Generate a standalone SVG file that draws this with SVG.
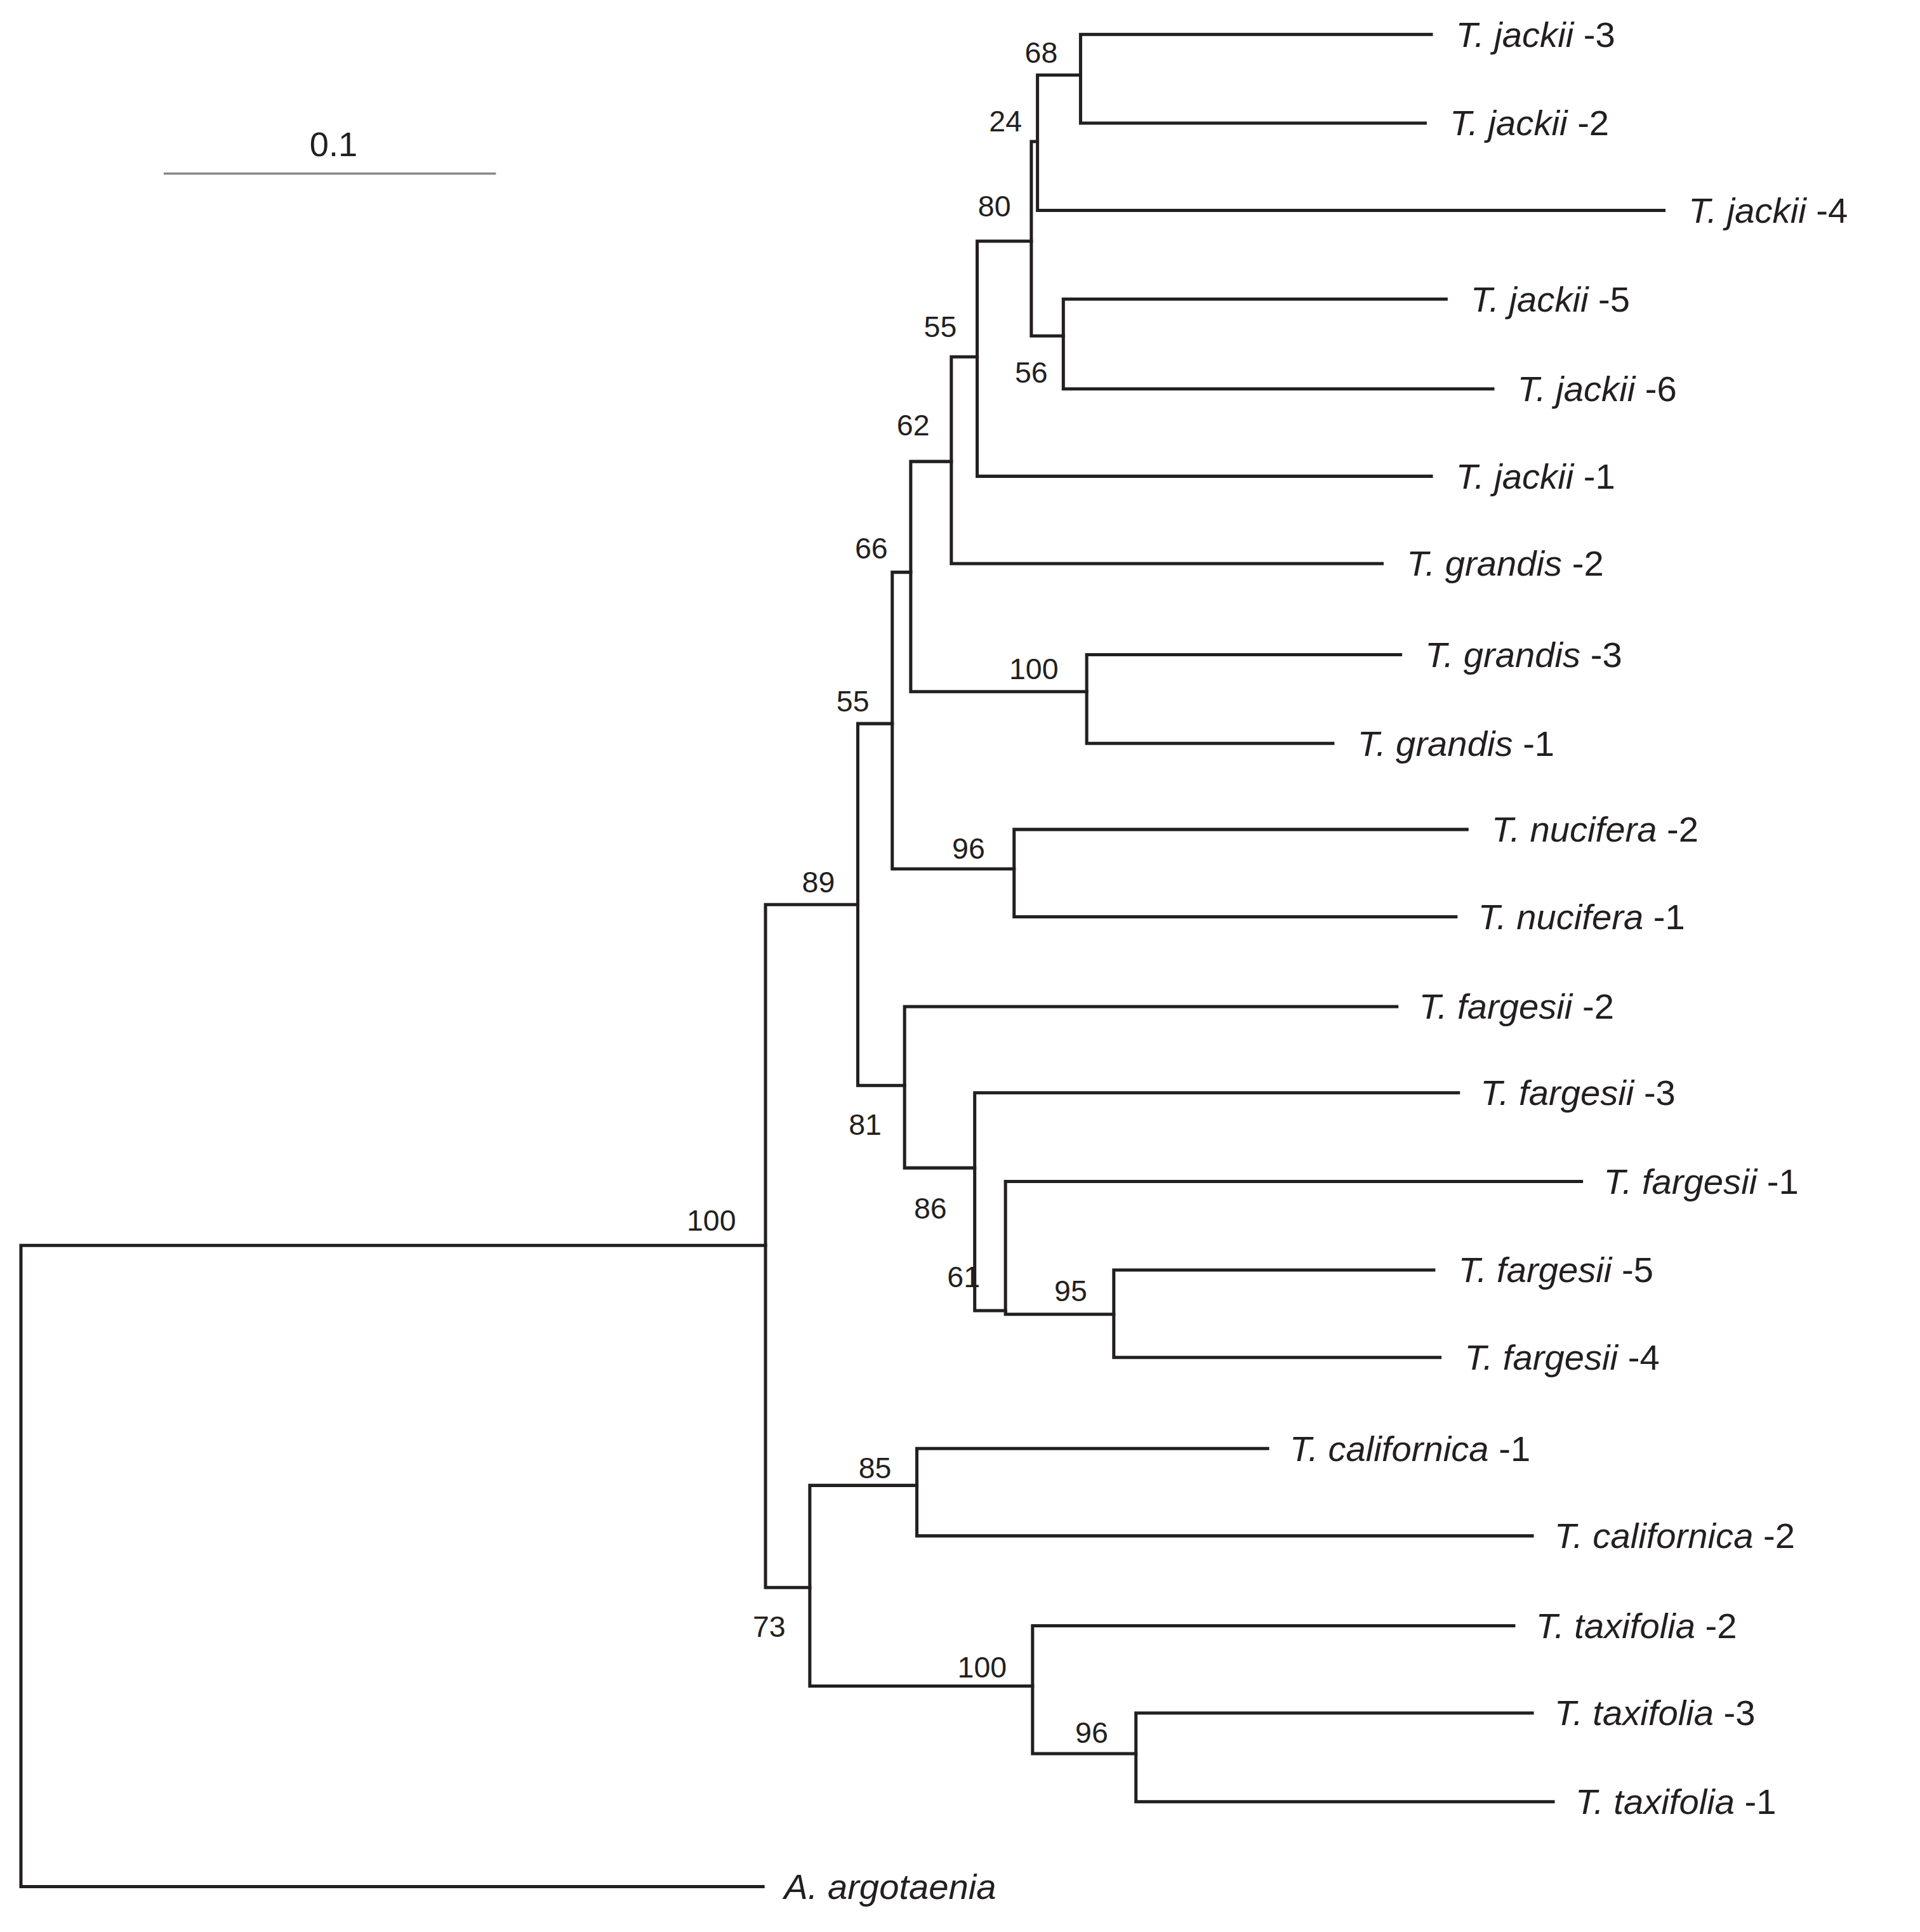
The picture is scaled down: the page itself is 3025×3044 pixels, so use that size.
<svg xmlns="http://www.w3.org/2000/svg" width="3025" height="3044" viewBox="0 0 3025 3044">
<style>
.br{fill:none;stroke:#231f20;stroke-width:2.6;stroke-linecap:square}
.bs{font-family:"Liberation Sans",Arial,sans-serif;font-size:24px;fill:#231f20;text-anchor:middle}
.tx{font-family:"Liberation Sans",Arial,sans-serif;font-size:29px;fill:#231f20}
.it{font-style:italic}
</style>
<rect width="3025" height="3044" fill="#fff"/>
<g transform="scale(1.939)">
<g id="scale">
<line x1="133" y1="141" x2="403" y2="141" stroke="#888" stroke-width="1.8"/>
<text class="bs" x="271" y="127" style="font-size:28px">0.1</text>
</g>
<g id="connectors">
<path class="br" d="M17,1012V1533M17,1012H622M17,1533H620"/>
<path class="br" d="M622,735V1290M622,735H697M622,1290H658"/>
<path class="br" d="M697,588V882M697,588H725M697,882H735"/>
<path class="br" d="M725,465V706M725,465H740M725,706H824"/>
<path class="br" d="M740,375V562M740,375H773M740,562H883"/>
<path class="br" d="M773,290V458M773,290H794M773,458H1123"/>
<path class="br" d="M794,196V387M794,196H838M794,387H1163"/>
<path class="br" d="M838,115V273M838,115H843M838,273H864"/>
<path class="br" d="M843,61V171M843,61H878M843,171H1352"/>
<path class="br" d="M878,28V100M878,28H1163M878,100H1158"/>
<path class="br" d="M864,243V316M864,243H1175M864,316H1213"/>
<path class="br" d="M883,532V604M883,532H1138M883,604H1083"/>
<path class="br" d="M824,674V745M824,674H1192M824,745H1183"/>
<path class="br" d="M735,818V949M735,818H1135M735,949H792"/>
<path class="br" d="M792,888V1065M792,888H1185M792,1065H817"/>
<path class="br" d="M817,960V1068M817,960H1285M817,1068H905"/>
<path class="br" d="M905,1032V1103M905,1032H1165M905,1103H1170"/>
<path class="br" d="M658,1207V1370M658,1207H745M658,1370H839"/>
<path class="br" d="M745,1177V1248M745,1177H1030M745,1248H1245"/>
<path class="br" d="M839,1321V1425M839,1321H1230M839,1425H923"/>
<path class="br" d="M923,1392V1464M923,1392H1245M923,1464H1262"/>
</g>
<g id="support">
<text class="bs" x="846" y="51">68</text>
<text class="bs" x="817" y="107">24</text>
<text class="bs" x="808" y="176">80</text>
<text class="bs" x="764" y="274">55</text>
<text class="bs" x="838" y="311">56</text>
<text class="bs" x="742" y="354">62</text>
<text class="bs" x="708" y="454">66</text>
<text class="bs" x="840" y="552">100</text>
<text class="bs" x="693" y="578">55</text>
<text class="bs" x="787" y="698">96</text>
<text class="bs" x="665" y="725">89</text>
<text class="bs" x="703" y="922">81</text>
<text class="bs" x="756" y="990">86</text>
<text class="bs" x="783" y="1046">61</text>
<text class="bs" x="870" y="1057">95</text>
<text class="bs" x="578" y="1000">100</text>
<text class="bs" x="711" y="1201">85</text>
<text class="bs" x="625" y="1330">73</text>
<text class="bs" x="798" y="1363">100</text>
<text class="bs" x="887" y="1416">96</text>
</g>
<g id="taxa">
<text class="tx" x="1183" y="38"><tspan class="it">T.  jackii</tspan> -3</text>
<text class="tx" x="1178" y="110"><tspan class="it">T.  jackii</tspan> -2</text>
<text class="tx" x="1372" y="181"><tspan class="it">T.  jackii</tspan> -4</text>
<text class="tx" x="1195" y="253"><tspan class="it">T.  jackii</tspan> -5</text>
<text class="tx" x="1233" y="326"><tspan class="it">T.  jackii</tspan> -6</text>
<text class="tx" x="1183" y="397"><tspan class="it">T.  jackii</tspan> -1</text>
<text class="tx" x="1143" y="468"><tspan class="it">T.  grandis</tspan> -2</text>
<text class="tx" x="1158" y="542"><tspan class="it">T.  grandis</tspan> -3</text>
<text class="tx" x="1103" y="614"><tspan class="it">T.  grandis</tspan> -1</text>
<text class="tx" x="1212" y="684"><tspan class="it">T.  nucifera</tspan> -2</text>
<text class="tx" x="1201" y="755"><tspan class="it">T.  nucifera</tspan> -1</text>
<text class="tx" x="1153" y="828"><tspan class="it">T.  fargesii</tspan> -2</text>
<text class="tx" x="1203" y="898"><tspan class="it">T.  fargesii</tspan> -3</text>
<text class="tx" x="1303" y="970"><tspan class="it">T.  fargesii</tspan> -1</text>
<text class="tx" x="1185" y="1042"><tspan class="it">T.  fargesii</tspan> -5</text>
<text class="tx" x="1190" y="1113"><tspan class="it">T.  fargesii</tspan> -4</text>
<text class="tx" x="1048" y="1187"><tspan class="it">T.  californica</tspan> -1</text>
<text class="tx" x="1263" y="1258"><tspan class="it">T.  californica</tspan> -2</text>
<text class="tx" x="1248" y="1331"><tspan class="it">T.  taxifolia</tspan> -2</text>
<text class="tx" x="1263" y="1402"><tspan class="it">T.  taxifolia</tspan> -3</text>
<text class="tx" x="1280" y="1474"><tspan class="it">T.  taxifolia</tspan> -1</text>
<text class="tx it" x="637" y="1543">A. argotaenia</text>
</g>
</g>
</svg>
